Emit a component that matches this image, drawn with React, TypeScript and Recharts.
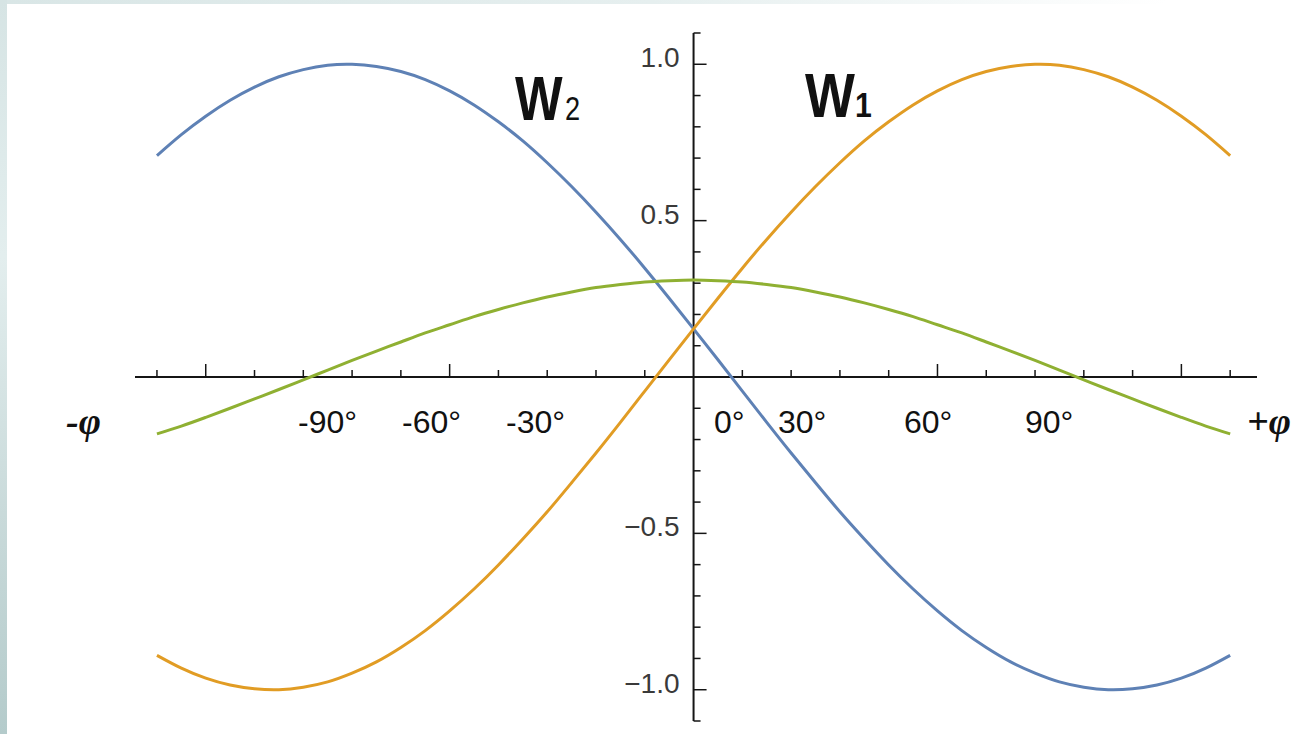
import React from 'react';
import { LineChart, Line, XAxis, YAxis, ReferenceLine, ReferenceDot } from 'recharts';

// phase angle samples (radians) and the three waveforms
const PHI = [
  -2.2, -2.1, -2.0, -1.9, -1.8, -1.7, -1.6, -1.5, -1.4, -1.3, -1.2, -1.1, -1.0, -0.9, -0.8, -0.7, -0.6, -0.5, -0.4, -0.3, -0.2, -0.1,
  0, 0.1, 0.2, 0.3, 0.4, 0.5, 0.6, 0.7, 0.8, 0.9, 1.0, 1.1, 1.2, 1.3, 1.4, 1.5, 1.6, 1.7, 1.8, 1.9, 2.0, 2.1, 2.2,
];
const W1 = [
  -0.89, -0.931, -0.963, -0.985, -0.997, -1.0, -0.992, -0.975, -0.947, -0.911, -0.865, -0.811, -0.748, -0.678, -0.601, -0.518, -0.431, -0.338, -0.243, -0.145, -0.045, 0.055,
  0.154, 0.252, 0.348, 0.44, 0.527, 0.609, 0.685, 0.755, 0.816, 0.87, 0.915, 0.951, 0.977, 0.993, 1.0, 0.997, 0.983, 0.96, 0.927, 0.885, 0.834, 0.775, 0.708,
];
const W2 = [
  0.708, 0.775, 0.834, 0.885, 0.927, 0.96, 0.983, 0.997, 1.0, 0.993, 0.977, 0.951, 0.915, 0.87, 0.816, 0.755, 0.685, 0.609, 0.527, 0.44, 0.348, 0.252,
  0.154, 0.055, -0.045, -0.145, -0.243, -0.338, -0.431, -0.518, -0.601, -0.678, -0.748, -0.811, -0.865, -0.911, -0.947, -0.975, -0.992, -1.0, -0.997, -0.985, -0.963, -0.931, -0.89,
];
const W0 = [
  -0.182, -0.157, -0.129, -0.1, -0.07, -0.04, -0.009, 0.022, 0.053, 0.083, 0.112, 0.141, 0.167, 0.193, 0.216, 0.237, 0.256, 0.272, 0.286, 0.296, 0.304, 0.308,
  0.31, 0.308, 0.304, 0.296, 0.286, 0.272, 0.256, 0.237, 0.216, 0.193, 0.167, 0.141, 0.112, 0.083, 0.053, 0.022, -0.009, -0.04, -0.07, -0.1, -0.129, -0.157, -0.182,
];

// axis ticks
const X_TICKS = [-2.2, -2.0, -1.8, -1.6, -1.4, -1.2, -1.0, -0.8, -0.6, -0.4, -0.2, 0.2, 0.4, 0.6, 0.8, 1.0, 1.2, 1.4, 1.6, 1.8, 2.0, 2.2];
const Y_TICKS = [-1.1, -1.0, -0.9, -0.8, -0.7, -0.6, -0.5, -0.4, -0.3, -0.2, -0.1, 0.1, 0.2, 0.3, 0.4, 0.5, 0.6, 0.7, 0.8, 0.9, 1.0, 1.1];
const Y_LABEL_VALUES = [1.0, 0.5, -0.5, -1.0];
const Y_LABEL_TEXT = ['1.0', '0.5', '\u22120.5', '\u22121.0'];

// angle annotations under the axis
const DEGREE_LABELS = ['-90°', '-60°', '-30°', '0°', '30°', '60°', '90°'];
const DEGREE_X = [298, 402, 506, 714, 778, 904, 1025];

const W = 1297;
const H = 734;
const MARGIN = { top: 33, right: 40, bottom: 13, left: 135 };
const X_DOMAIN: [number, number] = [-2.29, 2.31];
const Y_DOMAIN: [number, number] = [-1.1, 1.1];
const X_PX = (W - MARGIN.left - MARGIN.right) / (X_DOMAIN[1] - X_DOMAIN[0]);
const Y_PX = (H - MARGIN.top - MARGIN.bottom) / (Y_DOMAIN[1] - Y_DOMAIN[0]);

const AXIS = '#151515';
const BLUE = '#5E81B5';
const ORANGE = '#E19C24';
const GREEN = '#8FB032';
const SANS = "'Liberation Sans', Arial, sans-serif";
const SERIF = "'Liberation Serif', 'Times New Roman', serif";

const isMajor = (t: number, step: number) => Math.abs(t / step - Math.round(t / step)) < 1e-6;

const YTickLabel = (props: any) => {
  const vb = props.viewBox || {};
  return (
    <text x={vb.x - 14} y={vb.y + 3} textAnchor="end" fontSize={28} fontFamily={SANS} fill="#3a3a3a">
      {props.text}
    </text>
  );
};

const App: React.FC = () => {
  const data = PHI.map((phi, i) => ({ phi, w1: W1[i], w2: W2[i], w0: W0[i] }));

  return (
    <div style={{ position: 'absolute', left: 0, top: 0, width: W, height: H, background: '#fff', overflow: 'hidden' }}>
      <LineChart width={W} height={H} data={data} margin={MARGIN}>
        <XAxis type="number" dataKey="phi" domain={X_DOMAIN} hide allowDataOverflow />
        <YAxis type="number" domain={Y_DOMAIN} hide allowDataOverflow />

        {/* axes crossing at the origin */}
        <ReferenceLine y={0} stroke={AXIS} strokeWidth={2} ifOverflow="visible" />
        <ReferenceLine x={0} stroke={AXIS} strokeWidth={2} ifOverflow="visible" />

        {X_TICKS.map((t) => (
          <ReferenceLine key={`xt-${t}`} ifOverflow="visible" stroke={AXIS} strokeWidth={1.5}
            segment={[{ x: t, y: 0 }, { x: t, y: (isMajor(t, 1) ? 13 : 7) / Y_PX }]} />
        ))}
        {Y_TICKS.map((t) => (
          <ReferenceLine key={`yt-${t}`} ifOverflow="visible" stroke={AXIS} strokeWidth={1.5}
            segment={[{ x: 0, y: t }, { x: (isMajor(t, 0.5) ? 13 : 7) / X_PX, y: t }]} />
        ))}
        {Y_LABEL_VALUES.map((v, i) => (
          <ReferenceDot key={`yl-${v}`} x={0} y={v} r={0} fill="none" stroke="none" ifOverflow="visible"
            label={(p: any) => <YTickLabel {...p} text={Y_LABEL_TEXT[i]} />} />
        ))}

        <Line type="natural" dataKey="w2" stroke={BLUE} strokeWidth={3} dot={false} isAnimationActive={false} />
        <Line type="natural" dataKey="w1" stroke={ORANGE} strokeWidth={3} dot={false} isAnimationActive={false} />
        <Line type="natural" dataKey="w0" stroke={GREEN} strokeWidth={3} dot={false} isAnimationActive={false} />
      </LineChart>

      <svg width={W} height={H} style={{ position: 'absolute', left: 0, top: 0, pointerEvents: 'none' }}>
        {/* series names, W drawn a little condensed */}
        <text transform="translate(515 120) scale(0.8 1)" fontFamily={SANS} fill="#111">
          <tspan fontSize={63} fontWeight="bold">W</tspan>
          <tspan fontSize={34} dx={3}>2</tspan>
        </text>
        <text transform="translate(805 117) scale(0.84 1)" fontFamily={SANS} fill="#111">
          <tspan fontSize={63} fontWeight="bold">W</tspan>
          <tspan fontSize={36} fontWeight="bold" dx={0}>1</tspan>
        </text>

        {DEGREE_LABELS.map((s, i) => (
          <text key={s} x={DEGREE_X[i]} y={433} fontSize={32} fontFamily={SANS} fill="#111">{s}</text>
        ))}
        <text x={66} y={434} fontSize={38} fontStyle="italic" fontWeight="bold" fontFamily={SERIF} fill="#111">-φ</text>
        <text x={1247} y={434} fontSize={38} fontStyle="italic" fontWeight="bold" fontFamily={SERIF} fill="#111">+φ</text>
      </svg>

      {/* pale frame along the left and top edges */}
      <div style={{ position: 'absolute', left: 0, top: 0, width: 7, height: H,
        background: 'linear-gradient(to bottom, #d6e4e4 0%, #e3eeee 35%, #c9dada 70%, #b4cbcb 100%)' }} />
      <div style={{ position: 'absolute', left: 7, top: 0, width: W - 7, height: 4,
        background: 'linear-gradient(to right, #d9e6e6 0%, #e6efef 50%, #ffffff 90%)' }} />
    </div>
  );
};

export default App;
